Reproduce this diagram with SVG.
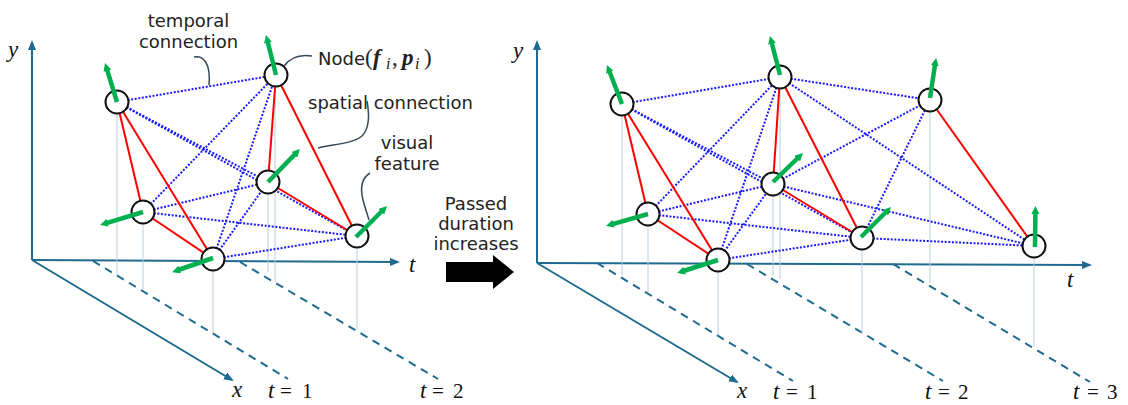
<svg xmlns="http://www.w3.org/2000/svg" width="1128" height="405" viewBox="0 0 1128 405">
<defs>
<marker id="ax" markerUnits="userSpaceOnUse" markerWidth="10" markerHeight="8" viewBox="0 0 10 8" refX="8" refY="4" orient="auto"><path d="M0,0 L10,4 L0,8 z" fill="#1f6a8f"/></marker>
<marker id="gr" markerUnits="userSpaceOnUse" markerWidth="8" markerHeight="8" viewBox="0 0 8 8" refX="3" refY="4" orient="auto"><path d="M0,0 L8,4 L0,8 z" fill="#00b050"/></marker>
<style>
.axis{stroke:#1f6a8f;stroke-width:2;fill:none}
.dash{stroke:#1f6a8f;stroke-width:2;stroke-dasharray:8 6;fill:none}
.proj{stroke:#b7cde0;stroke-width:1}
.sp{stroke:#ff0000;stroke-width:2}
.tp{stroke:#1a1aff;stroke-width:2;stroke-dasharray:2 1.6}
.nd{fill:#ffffff;stroke:#111111;stroke-width:2}
.ft{stroke:#00b050;stroke-width:4.5;marker-end:url(#gr)}
.call{stroke:#34495a;stroke-width:1.5;fill:none}
.lbl{font-family:"DejaVu Sans",Verdana,sans-serif;font-size:18px;fill:#222222}
.mi{font-family:"Liberation Serif","DejaVu Serif",serif;font-style:italic;font-size:23px;fill:#111111}
.mr{font-family:"Liberation Serif","DejaVu Serif",serif;font-size:21px;fill:#111111}
.ms{font-family:"Liberation Serif","DejaVu Serif",serif;fill:#222222}
</style>
</defs>

<!-- Left panel axes -->
<g id="axes-left">
<line class="axis" x1="32" y1="260" x2="32" y2="42" marker-end="url(#ax)"/>
<line class="axis" x1="32" y1="260" x2="398" y2="262" marker-end="url(#ax)"/>
<line class="axis" x1="32" y1="260" x2="232" y2="380" marker-end="url(#ax)"/>
<line class="dash" x1="93" y1="261" x2="288" y2="379"/>
<line class="dash" x1="240" y1="262" x2="438" y2="379"/>
<text class="mi" x="8" y="57">y</text>
<text class="mi" x="409" y="272">t</text>
<text class="mi" x="232" y="397">x</text>
<text class="mr" y="398"><tspan class="mi" x="268">t</tspan><tspan x="280">=</tspan><tspan x="302">1</tspan></text>
<text class="mr" y="398"><tspan class="mi" x="420">t</tspan><tspan x="432">=</tspan><tspan x="453">2</tspan></text>
</g>

<!-- Right panel axes -->
<g id="axes-right">
<line class="axis" x1="537" y1="263" x2="537" y2="42" marker-end="url(#ax)"/>
<line class="axis" x1="537" y1="263" x2="1090" y2="265" marker-end="url(#ax)"/>
<line class="axis" x1="537" y1="263" x2="737" y2="382" marker-end="url(#ax)"/>
<line class="dash" x1="597" y1="263" x2="793" y2="381"/>
<line class="dash" x1="747" y1="264" x2="943" y2="381"/>
<line class="dash" x1="893" y1="264" x2="1090" y2="382"/>
<text class="mi" x="513" y="58">y</text>
<text class="mi" x="1067" y="287">t</text>
<text class="mi" x="737" y="398">x</text>
<text class="mr" y="399"><tspan class="mi" x="773">t</tspan><tspan x="786">=</tspan><tspan x="807">1</tspan></text>
<text class="mr" y="399"><tspan class="mi" x="925">t</tspan><tspan x="938">=</tspan><tspan x="958">2</tspan></text>
<text class="mr" y="399"><tspan class="mi" x="1073">t</tspan><tspan x="1087">=</tspan><tspan x="1107">3</tspan></text>
</g>

<!-- Connectors -->
<g id="connectors">
<line class="proj" x1="117" y1="102" x2="117" y2="275"/>
<line class="proj" x1="143" y1="212" x2="143" y2="289"/>
<line class="proj" x1="213" y1="259" x2="213" y2="333"/>
<line class="proj" x1="268" y1="182" x2="268" y2="272"/>
<line class="proj" x1="275" y1="75" x2="275" y2="282"/>
<line class="proj" x1="357" y1="236" x2="357" y2="330"/>
<line class="proj" x1="622" y1="104" x2="622" y2="275"/>
<line class="proj" x1="648" y1="214" x2="648" y2="292"/>
<line class="proj" x1="718" y1="260" x2="718" y2="335"/>
<line class="proj" x1="773" y1="184" x2="773" y2="275"/>
<line class="proj" x1="780" y1="77" x2="780" y2="279"/>
<line class="proj" x1="862" y1="238" x2="862" y2="333"/>
<line class="proj" x1="930" y1="100" x2="930" y2="283"/>
<line class="proj" x1="1034" y1="246" x2="1034" y2="347"/>
<line class="tp" x1="117" y1="102" x2="276" y2="75"/>
<line class="tp" x1="117" y1="102" x2="268" y2="182"/>
<line class="tp" x1="117" y1="102" x2="357" y2="236"/>
<line class="tp" x1="143" y1="212" x2="276" y2="75"/>
<line class="tp" x1="143" y1="212" x2="268" y2="182"/>
<line class="tp" x1="143" y1="212" x2="357" y2="236"/>
<line class="tp" x1="213" y1="259" x2="276" y2="75"/>
<line class="tp" x1="213" y1="259" x2="268" y2="182"/>
<line class="tp" x1="213" y1="259" x2="357" y2="236"/>
<line class="sp" x1="117" y1="102" x2="143" y2="212"/>
<line class="sp" x1="117" y1="102" x2="213" y2="259"/>
<line class="sp" x1="143" y1="212" x2="213" y2="259"/>
<line class="sp" x1="276" y1="75" x2="268" y2="182"/>
<line class="sp" x1="276" y1="75" x2="357" y2="236"/>
<line class="sp" x1="268" y1="182" x2="357" y2="236"/>
<line class="tp" x1="622" y1="104" x2="780" y2="77"/>
<line class="tp" x1="622" y1="104" x2="773" y2="184"/>
<line class="tp" x1="622" y1="104" x2="862" y2="238"/>
<line class="tp" x1="648" y1="214" x2="780" y2="77"/>
<line class="tp" x1="648" y1="214" x2="773" y2="184"/>
<line class="tp" x1="648" y1="214" x2="862" y2="238"/>
<line class="tp" x1="718" y1="260" x2="780" y2="77"/>
<line class="tp" x1="718" y1="260" x2="773" y2="184"/>
<line class="tp" x1="718" y1="260" x2="862" y2="238"/>
<line class="tp" x1="780" y1="77" x2="930" y2="100"/>
<line class="tp" x1="780" y1="77" x2="1034" y2="246"/>
<line class="tp" x1="773" y1="184" x2="930" y2="100"/>
<line class="tp" x1="773" y1="184" x2="1034" y2="246"/>
<line class="tp" x1="862" y1="238" x2="930" y2="100"/>
<line class="tp" x1="862" y1="238" x2="1034" y2="246"/>
<line class="sp" x1="622" y1="104" x2="648" y2="214"/>
<line class="sp" x1="622" y1="104" x2="718" y2="260"/>
<line class="sp" x1="648" y1="214" x2="718" y2="260"/>
<line class="sp" x1="780" y1="77" x2="773" y2="184"/>
<line class="sp" x1="780" y1="77" x2="862" y2="238"/>
<line class="sp" x1="773" y1="184" x2="862" y2="238"/>
<line class="sp" x1="930" y1="100" x2="1034" y2="246"/>
</g>

<!-- Left nodes -->
<g id="nodeL-A"><circle class="nd" cx="117" cy="102" r="11.5"/><line class="ft" x1="117" y1="102" x2="106.5" y2="67.8"/></g>
<g id="nodeL-B"><circle class="nd" cx="276" cy="75" r="11.5"/><line class="ft" x1="276" y1="75" x2="267.2" y2="39.9"/></g>
<g id="nodeL-C"><circle class="nd" cx="268" cy="182" r="11.5"/><line class="ft" x1="268" y1="182" x2="296.5" y2="152.6"/></g>
<g id="nodeL-D"><circle class="nd" cx="143" cy="212" r="11.5"/><line class="ft" x1="143" y1="212" x2="104.8" y2="223.6"/></g>
<g id="nodeL-E"><circle class="nd" cx="213" cy="259" r="11.5"/><line class="ft" x1="213" y1="258" x2="176.8" y2="270.5"/></g>
<g id="nodeL-F"><circle class="nd" cx="357" cy="236" r="11.5"/><line class="ft" x1="356" y1="237" x2="383.5" y2="209.5"/></g>

<!-- Right nodes -->
<g id="nodeR-A"><circle class="nd" cx="622" cy="104" r="11.5"/><line class="ft" x1="622" y1="104" x2="608.8" y2="69.7"/></g>
<g id="nodeR-B"><circle class="nd" cx="780" cy="77" r="11.5"/><line class="ft" x1="780" y1="75" x2="771.2" y2="40.8"/></g>
<g id="nodeR-G"><circle class="nd" cx="930" cy="100" r="11.5"/><line class="ft" x1="930" y1="98" x2="935.3" y2="62.9"/></g>
<g id="nodeR-C"><circle class="nd" cx="773" cy="184" r="11.5"/><line class="ft" x1="773" y1="182" x2="799.4" y2="156.5"/></g>
<g id="nodeR-D"><circle class="nd" cx="648" cy="214" r="11.5"/><line class="ft" x1="648" y1="214" x2="610.8" y2="224.6"/></g>
<g id="nodeR-E"><circle class="nd" cx="718" cy="260" r="11.5"/><line class="ft" x1="718" y1="260" x2="681.8" y2="271.5"/></g>
<g id="nodeR-F"><circle class="nd" cx="862" cy="238" r="11.5"/><line class="ft" x1="861" y1="237" x2="887.5" y2="210.5"/></g>
<g id="nodeR-H"><circle class="nd" cx="1034" cy="246" r="11.5"/><line class="ft" x1="1035" y1="247" x2="1035.4" y2="211"/></g>

<!-- Annotations -->
<g id="annotations">
<path class="call" d="M194,57 C203,55 211,63 209,85"/>
<path class="call" d="M312,56 C300,54 290,58 284,66"/>
<path class="call" d="M367,101 C369,112 370,128 362,136 C352,144 334,144 318,148"/>
<path class="call" d="M370,173 C362,178 360,188 363,200 C365,208 367,213 369,220"/>
<text class="lbl" x="188.5" y="27" text-anchor="middle">temporal</text>
<text class="lbl" x="188.5" y="48" text-anchor="middle">connection</text>
<text class="lbl" x="318" y="65">Node</text>
<text class="ms" y="65" font-size="23"><tspan x="365">(</tspan><tspan x="373" font-style="italic" font-weight="bold">f</tspan><tspan x="386" dy="4" font-style="italic" font-size="16">i</tspan><tspan x="392" dy="-4">,</tspan><tspan x="402" font-style="italic" font-weight="bold">p</tspan><tspan x="415" dy="4" font-style="italic" font-size="16">i</tspan><tspan x="424" dy="-4">)</tspan></text>
<text class="lbl" x="308" y="109">spatial connection</text>
<text class="lbl" x="407" y="149" text-anchor="middle">visual</text>
<text class="lbl" x="407" y="170" text-anchor="middle">feature</text>
</g>

<g id="transition">
<text class="lbl" x="476" y="210" text-anchor="middle">Passed</text>
<text class="lbl" x="476" y="230" text-anchor="middle">duration</text>
<text class="lbl" x="476" y="250" text-anchor="middle">increases</text>
<polygon points="446,262 493,262 493,255 514,272 493,289 493,282 446,282" fill="#000000"/>
</g>
</svg>
